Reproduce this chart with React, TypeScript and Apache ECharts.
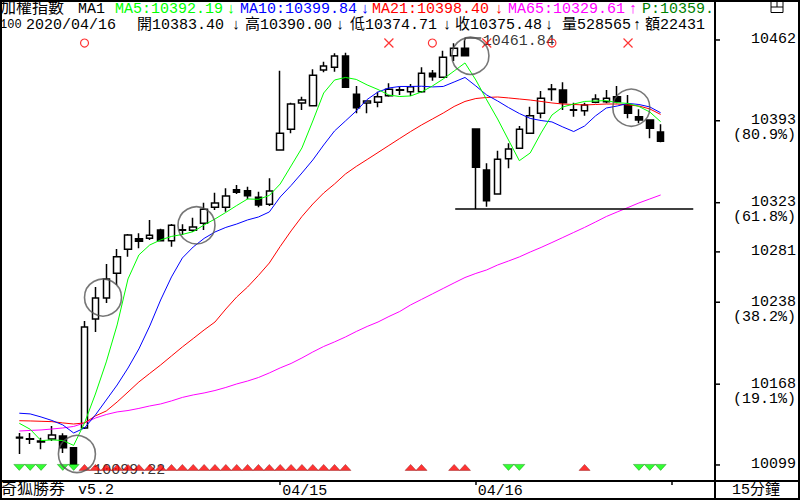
import React, { useEffect, useRef } from 'react';
import * as echarts from 'echarts';

// [open, close, low, high] per 15-minute bar
const candles: number[][] = [
  [10122.1, 10122.6, 10108.4, 10126.3],
  [10121.0, 10121.4, 10116.9, 10126.3],
  [10119.5, 10118.6, 10112.4, 10122.3],
  [10121.2, 10124.6, 10119.5, 10132.3],
  [10123.8, 10113.8, 10109.2, 10126.1],
  [10113.8, 10099.6, 10099.22, 10114.4],
  [10130.6, 10216.9, 10129.8, 10222.0],
  [10223.7, 10241.6, 10212.6, 10251.0],
  [10241.6, 10257.9, 10237.4, 10270.7],
  [10262.7, 10276.9, 10252.7, 10283.5],
  [10283.2, 10295.4, 10276.9, 10296.3],
  [10292.3, 10290.1, 10284.1, 10296.9],
  [10292.6, 10295.2, 10291.2, 10308.3],
  [10299.7, 10290.6, 10290.3, 10300.8],
  [10290.6, 10303.7, 10285.4, 10304.8],
  [10299.5, 10300.0, 10295.4, 10304.6],
  [10299.5, 10302.3, 10298.0, 10310.2],
  [10305.4, 10317.4, 10299.7, 10323.0],
  [10319.1, 10322.8, 10316.8, 10331.6],
  [10319.1, 10328.8, 10315.3, 10335.3],
  [10334.1, 10331.9, 10330.5, 10338.2],
  [10333.3, 10329.0, 10325.9, 10336.7],
  [10327.6, 10321.1, 10319.1, 10332.4],
  [10321.7, 10333.0, 10320.2, 10343.9],
  [10368.0, 10382.3, 10367.5, 10435.8],
  [10385.7, 10407.3, 10382.3, 10408.4],
  [10408.2, 10410.7, 10402.2, 10413.6],
  [10405.9, 10431.8, 10405.5, 10437.0],
  [10436.4, 10439.8, 10434.4, 10443.5],
  [10438.7, 10448.3, 10434.9, 10450.6],
  [10448.3, 10421.6, 10421.2, 10451.1],
  [10415.6, 10404.2, 10399.4, 10422.7],
  [10408.2, 10409.9, 10399.4, 10410.2],
  [10408.8, 10413.6, 10404.5, 10417.8],
  [10414.4, 10419.9, 10413.6, 10425.0],
  [10419.0, 10419.5, 10415.0, 10422.1],
  [10417.8, 10422.1, 10414.2, 10424.4],
  [10417.8, 10433.5, 10417.0, 10438.7],
  [10433.5, 10430.6, 10427.2, 10436.4],
  [10430.1, 10447.2, 10429.8, 10452.8],
  [10448.6, 10454.9, 10444.1, 10459.2],
  [10454.9, 10448.6, 10448.3, 10461.84],
  [10386.0, 10353.3, 10317.6, 10386.3],
  [10350.9, 10324.7, 10319.6, 10356.7],
  [10330.5, 10360.1, 10329.9, 10367.4],
  [10360.6, 10368.9, 10352.4, 10373.8],
  [10369.5, 10385.7, 10368.9, 10388.5],
  [10382.3, 10397.3, 10382.0, 10405.0],
  [10399.4, 10412.2, 10395.1, 10418.4],
  [10420.2, 10419.6, 10410.1, 10424.4],
  [10419.3, 10408.4, 10402.2, 10425.9],
  [10402.4, 10402.0, 10396.5, 10408.4],
  [10401.6, 10406.5, 10397.3, 10408.4],
  [10408.8, 10411.6, 10407.9, 10415.6],
  [10409.3, 10412.2, 10407.9, 10419.3],
  [10413.6, 10409.3, 10407.9, 10422.7],
  [10406.5, 10399.4, 10395.1, 10415.0],
  [10396.5, 10393.7, 10390.8, 10402.8],
  [10393.7, 10386.6, 10378.0, 10393.7],
  [10383.40, 10375.48, 10374.71, 10390.00],
];

const ma5 = [
  10134.6, 10129.5, 10119.8, 10120.4, 10119.9, 10115.7, 10134.9, 10159.6, 10187.0, 10218.6,
  10257.9, 10278.4, 10286.9, 10291.2, 10294.2, 10295.9, 10298.3, 10304.0, 10309.1, 10314.7,
  10320.6, 10326.2, 10325.9, 10329.2, 10339.0, 10354.4, 10369.8, 10392.8, 10416.7, 10427.8,
  10430.0, 10428.3, 10423.6, 10419.7, 10415.0, 10413.7, 10414.2, 10417.6, 10422.7, 10428.7,
  10435.5, 10442.4, 10427.8, 10410.8, 10394.5, 10376.6, 10358.9, 10365.5, 10382.6, 10397.9,
  10404.8, 10407.3, 10409.5, 10409.9, 10410.2, 10408.4, 10407.8, 10405.2, 10400.5, 10392.19,
];
const ma10 = [
  10143.2, 10142.6, 10140.0, 10137.0, 10133.2, 10126.3, 10130.6, 10141.7, 10154.5, 10167.3,
  10181.8, 10198.1, 10217.7, 10239.9, 10259.6, 10275.8, 10285.2, 10292.5, 10298.0, 10301.9,
  10304.8, 10308.3, 10310.8, 10315.1, 10327.9, 10337.7, 10348.4, 10359.5, 10372.3, 10384.3,
  10392.8, 10401.4, 10411.2, 10417.6, 10421.0, 10422.3, 10422.3, 10422.5, 10421.9, 10422.3,
  10426.1, 10430.0, 10422.7, 10415.0, 10409.9, 10404.3, 10399.2, 10395.0, 10393.2, 10392.0,
  10387.7, 10383.8, 10388.5, 10397.1, 10403.9, 10405.6, 10407.8, 10406.9, 10404.8, 10399.84,
];
const ma21 = [
  10136.8, 10136.6, 10136.3, 10136.0, 10134.9, 10134.0, 10134.9, 10140.9, 10145.1, 10152.8,
  10161.3, 10169.9, 10177.2, 10184.4, 10192.1, 10199.8, 10207.0, 10214.3, 10221.1, 10232.2,
  10242.5, 10251.0, 10260.9, 10271.5, 10285.6, 10298.9, 10311.2, 10321.9, 10331.3, 10339.0,
  10347.5, 10354.0, 10359.9, 10365.9, 10371.9, 10377.9, 10383.8, 10389.4, 10394.5, 10399.6,
  10405.2, 10409.5, 10412.0, 10412.9, 10413.3, 10412.5, 10411.6, 10410.7, 10409.5, 10408.2,
  10407.3, 10406.9, 10406.5, 10406.9, 10407.3, 10407.3, 10406.5, 10405.6, 10403.1, 10398.40,
];
const ma65 = [
  10128.0, 10128.5, 10128.9, 10129.7, 10130.6, 10131.9, 10134.9, 10139.1, 10142.1, 10144.3,
  10145.5, 10147.3, 10149.4, 10151.1, 10153.7, 10156.7, 10158.8, 10160.5, 10162.6, 10165.2,
  10168.2, 10170.7, 10173.7, 10177.6, 10181.9, 10185.7, 10190.4, 10195.5, 10200.2, 10204.1,
  10208.3, 10213.0, 10217.3, 10221.1, 10225.8, 10230.1, 10235.7, 10240.4, 10245.1, 10249.8,
  10254.5, 10259.1, 10262.6, 10265.6, 10269.8, 10273.2, 10276.7, 10280.9, 10284.8, 10289.0,
  10293.3, 10297.6, 10301.9, 10306.5, 10311.2, 10315.1, 10318.9, 10322.8, 10326.2, 10329.61,
];

const slotCount = 64;
const slots = Array.from({ length: slotCount }, (_, i) => String(i));

const yMin = 10085.3;
const yMax = 10465.4;
const yTicks = [10099, 10168, 10238, 10281, 10323, 10393, 10462];
const fibTicks = [10168, 10238, 10323, 10393];
const fibLabels = ['(19.1%)', '(38.2%)', '(61.8%)', '(80.9%)'];

const dayTickIdx = [24, 42, 60];
const dayLabelIdx = [24, 42];
const dayLabels = ['04/15', '04/16'];

const buyIdx = [6, 7, 8, 9, 10, 11, 12, 13, 14, 15, 16, 17, 18, 19, 20, 21, 22, 23, 24, 25, 26, 27, 28, 29, 30, 36, 37, 40, 41, 52];
const sellIdx = [0, 1, 2, 4, 5, 45, 46, 57, 58, 59];
const signalLevel = 10096.9;

const topCircleIdx = [6, 38, 49];
const topCrossIdx = [34, 43, 56];
const topMarkLevel = 10459.4;

const highlightAnchors = [
  [5.3, 10108.4],
  [7.7, 10242.0],
  [16.3, 10303.7],
  [41.5, 10448.5],
  [56.3, 10404.2],
];

const highIdx = 41;
const highValue = 10461.84;
const lowIdx = 5;
const lowValue = 10099.22;
const supportLevel = 10317.6;
const supportFrom = 40.1;
const supportTo = 62;

const FONT = '"Liberation Mono", "Noto Sans CJK TC", monospace';

const last = candles[candles.length - 1];

function txt(x: number, y: number, text: string, fill = '#000', align = 'left', size = 15) {
  return {
    type: 'text',
    x,
    y,
    silent: true,
    z: 20,
    style: {
      text,
      fill,
      font: `${size}px ${FONT}`,
      textAlign: align,
      textVerticalAlign: 'middle',
      align,
      verticalAlign: 'middle',
    },
  };
}

function line(x1: number, y1: number, x2: number, y2: number, w = 2) {
  return {
    type: 'line',
    silent: true,
    z: 20,
    shape: { x1, y1, x2, y2 },
    style: { stroke: '#000', lineWidth: w },
  };
}

export default function App() {
  const ref = useRef<HTMLDivElement>(null);

  useEffect(() => {
    const chart = echarts.init(ref.current!, null, { renderer: 'svg' });

    const graphic: any[] = [
      { type: 'rect', silent: true, z: 20, shape: { x: 1, y: 1, width: 798, height: 498 }, style: { fill: 'none', stroke: '#000', lineWidth: 2 } },
      line(715, 0, 715, 500),
      line(0, 481, 800, 481),
      { type: 'rect', silent: true, z: 20, shape: { x: 771, y: 1.5, width: 12, height: 11 }, style: { fill: 'none', stroke: '#000', lineWidth: 1 } },
      line(771, 7, 783, 7, 1),
      line(777, 1.5, 777, 7, 1),
      // header row 1
      txt(0, 9, '加權指數', '#000', 'left', 16),
      txt(78, 9, 'MA1'),
      txt(115, 9, `MA5:${ma5[ma5.length - 1].toFixed(2)}`, '#00ff00'),
      txt(231, 9, '↓', '#00ff00', 'center'),
      txt(240, 9, `MA10:${ma10[ma10.length - 1].toFixed(2)}`, '#0000ff'),
      txt(365, 9, '↓', '#0000ff', 'center'),
      txt(372, 9, `MA21:${ma21[ma21.length - 1].toFixed(2)}`, '#ff0000'),
      txt(499, 9, '↓', '#ff0000', 'center'),
      txt(508, 9, `MA65:${ma65[ma65.length - 1].toFixed(2)}`, '#ff00ff'),
      txt(633, 9, '↑', '#ff00ff', 'center'),
      txt(642, 9, 'P:10359.', '#008000'),
      // header row 2
      txt(0, 25, '100', '#000', 'left', 12),
      txt(26, 25, '2020/04/16'),
      txt(137, 25, `開${last[0].toFixed(2)}`),
      txt(236, 25, '↓', '#000', 'center'),
      txt(245, 25, `高${last[3].toFixed(2)}`),
      txt(340, 25, '↓', '#000', 'center'),
      txt(350, 25, `低${last[2].toFixed(2)}`),
      txt(447, 25, '↓', '#000', 'center'),
      txt(455, 25, `收${last[1].toFixed(2)}`),
      txt(549, 25, '↓', '#000', 'center'),
      txt(562, 25, '量528565'),
      txt(637, 25, '↑', '#000', 'center'),
      txt(645, 25, '額22431'),
      // bottom row
      txt(1, 490, '奇狐勝券', '#000', 'left', 16),
      txt(78, 490, 'v5.2'),
      txt(756, 490, '15分鐘', '#000', 'center'),
    ];

    const option: any = {
      animation: false,
      backgroundColor: '#fff',
      grid: { left: 13.87, top: 36, width: 695.7, height: 445 },
      xAxis: [
        { type: 'category', data: slots, boundaryGap: true, show: false },
        {
          type: 'value',
          min: -0.5,
          max: 63.5,
          position: 'bottom',
          splitLine: { show: false },
          axisLine: { show: false },
          axisTick: {
            show: true,
            customValues: dayTickIdx,
            length: 4,
            lineStyle: { color: '#000', width: 1.5 },
          },
          axisLabel: {
            customValues: dayLabelIdx,
            formatter: (v: number) => dayLabels[dayLabelIdx.indexOf(v)] ?? '',
            align: 'left',
            margin: 3,
            padding: [0, 0, 0, 2],
            color: '#000',
            fontSize: 15,
            fontFamily: FONT,
          },
        },
      ],
      yAxis: [
        {
          type: 'value',
          position: 'right',
          offset: 5.43,
          min: yMin,
          max: yMax,
          splitLine: { show: false },
          axisLine: { show: false },
          axisTick: { show: false },
          axisLabel: {
            customValues: yTicks,
            formatter: (v: number) => {
              const k = fibTicks.indexOf(v);
              return k >= 0 ? `\n${v}\n${fibLabels[k]}` : String(v);
            },
            align: 'right',
            verticalAlign: 'middle',
            lineHeight: 15,
            margin: 81,
            color: '#000',
            fontSize: 15,
            fontFamily: FONT,
          },
        },
      ],
      series: [
        {
          type: 'candlestick',
          xAxisIndex: 0,
          yAxisIndex: 0,
          data: candles,
          barWidth: 7,
          silent: true,
          z: 2,
          itemStyle: {
            color: '#ffffff',
            color0: '#000000',
            borderColor: '#000000',
            borderColor0: '#000000',
            borderColorDoji: '#000000',
            borderWidth: 1.5,
          },
        },
        ...[
          { d: ma65, c: '#ff00ff' },
          { d: ma21, c: '#ff0000' },
          { d: ma10, c: '#0000ff' },
          { d: ma5, c: '#00ff00' },
        ].map((s) => ({
          type: 'line',
          xAxisIndex: 0,
          yAxisIndex: 0,
          data: s.d,
          symbol: 'none',
          silent: true,
          z: 3,
          lineStyle: { color: s.c, width: 1 },
        })),
        {
          type: 'line',
          xAxisIndex: 1,
          yAxisIndex: 0,
          data: [[supportFrom, supportLevel], [supportTo, supportLevel]],
          symbol: 'none',
          silent: true,
          z: 4,
          lineStyle: { color: '#000', width: 1.5 },
        },
        {
          type: 'line',
          xAxisIndex: 1,
          yAxisIndex: 0,
          data: [[highIdx, highValue], [highIdx, 10463.7], [highIdx + 1.5, 10463.7]],
          symbol: 'none',
          silent: true,
          z: 4,
          lineStyle: { color: '#000', width: 1.2 },
        },
        {
          type: 'scatter',
          xAxisIndex: 1,
          yAxisIndex: 0,
          data: [[highIdx + 1.55, 10460.6]],
          symbolSize: 0,
          silent: true,
          z: 4,
          label: {
            show: true,
            position: 'right',
            distance: 1,
            formatter: () => highValue.toFixed(2),
            color: '#000',
            fontSize: 15,
            lineHeight: 15,
            fontFamily: FONT,
          },
        },
        {
          type: 'scatter',
          xAxisIndex: 1,
          yAxisIndex: 0,
          data: [[lowIdx + 1.7, 10093.9]],
          symbolSize: 0,
          silent: true,
          z: 3,
          label: {
            show: true,
            position: 'right',
            distance: 1,
            formatter: () => lowValue.toFixed(2),
            color: '#000',
            fontSize: 15,
            fontFamily: FONT,
          },
        },
        {
          type: 'scatter',
          xAxisIndex: 1,
          yAxisIndex: 0,
          data: buyIdx.map((i) => [i, signalLevel]),
          symbol: 'triangle',
          symbolSize: [11, 6],
          silent: true,
          z: 6,
          itemStyle: { color: '#ff0000', borderColor: '#800000', borderWidth: 0.5 },
        },
        {
          type: 'scatter',
          xAxisIndex: 1,
          yAxisIndex: 0,
          data: sellIdx.map((i) => [i, signalLevel]),
          symbol: 'triangle',
          symbolRotate: 180,
          symbolSize: [11, 6],
          silent: true,
          z: 6,
          itemStyle: { color: '#00ff00', borderColor: '#008000', borderWidth: 0.5 },
        },
        {
          type: 'scatter',
          xAxisIndex: 1,
          yAxisIndex: 0,
          data: topCircleIdx.map((i) => [i, topMarkLevel]),
          symbol: 'circle',
          symbolSize: 8,
          silent: true,
          z: 6,
          itemStyle: { color: 'rgba(0,0,0,0)', borderColor: '#ff0000', borderWidth: 1.2 },
        },
        {
          type: 'scatter',
          xAxisIndex: 1,
          yAxisIndex: 0,
          data: topCrossIdx.map((i) => [i, topMarkLevel]),
          symbol: 'path://M0,0L10,10M10,0L0,10',
          symbolSize: 9,
          silent: true,
          z: 6,
          itemStyle: { color: 'rgba(0,0,0,0)', borderColor: '#ff0000', borderWidth: 1.2 },
        },
        {
          type: 'scatter',
          xAxisIndex: 1,
          yAxisIndex: 0,
          data: highlightAnchors,
          symbol: 'circle',
          symbolSize: 37,
          silent: true,
          z: 7,
          itemStyle: { color: 'rgba(0,0,0,0)', borderColor: '#555555', borderWidth: 1.6 },
        },
      ],
      graphic,
    };

    chart.setOption(option);

    // value-axis tick marks, placed through the axis scale
    const tickMarks = yTicks.map((v) => {
      const y = chart.convertToPixel({ yAxisIndex: 0 }, v) as number;
      return line(715, y, 720, y, 1.5);
    });
    chart.setOption({ graphic: [...graphic, ...tickMarks] });

    return () => chart.dispose();
  }, []);

  return (
    <div
      ref={ref}
      style={{ position: 'fixed', left: 0, top: 0, width: 800, height: 500, background: '#fff' }}
    />
  );
}
